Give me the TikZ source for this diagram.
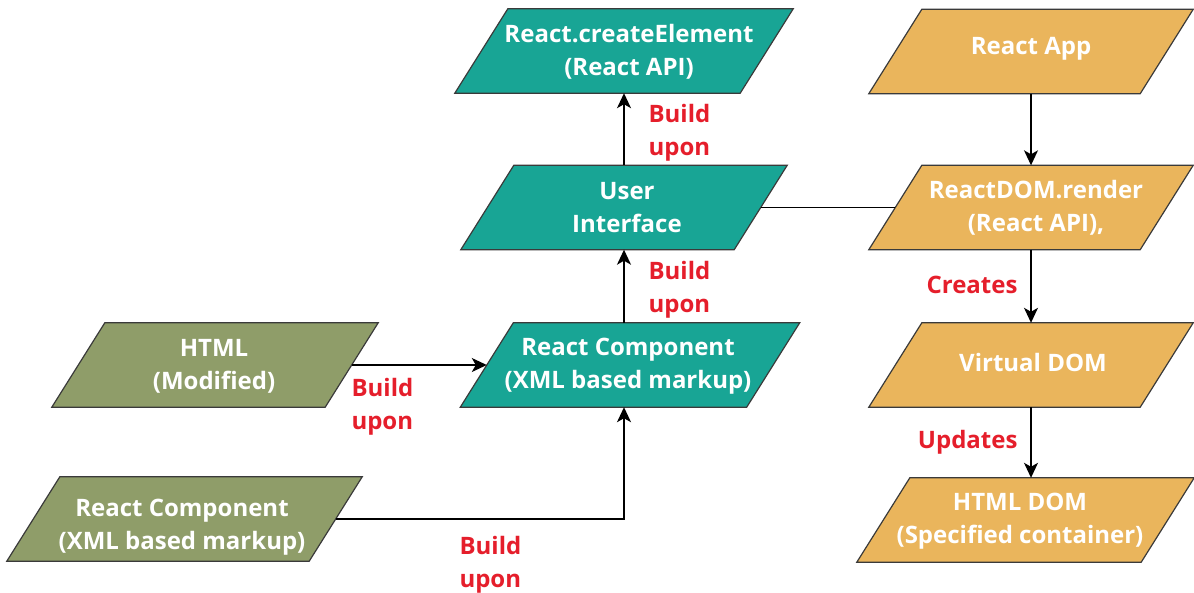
\documentclass[tikz,border=0pt]{standalone}
\usepackage{fontspec}
\setmainfont{Open Sans}
\usetikzlibrary{arrows.meta}

\definecolor{tealbox}{HTML}{18A595}
\definecolor{orangebox}{HTML}{EAB55C}
\definecolor{olivebox}{HTML}{8F9D69}
\definecolor{edgeline}{HTML}{3A3A3A}
\definecolor{labelred}{HTML}{E51E2B}

\tikzset{
  pbody/.style={rectangle, minimum height=84pt, inner sep=0pt},
  pshape/.style={draw=edgeline, line width=1.2pt},
  boxtext/.style={text=white, align=center, font=\bfseries\fontsize{24}{33}\selectfont},
  redtext/.style={text=labelred, align=left, anchor=west,
    font=\bfseries\fontsize{24}{33}\selectfont},
  arr/.style={draw=black, line width=1.5pt,
    -{Stealth[length=15pt,width=14pt,inset=4pt]}},
  link/.style={draw=black, line width=1.5pt}
}

% parallelogram box: #1 name, #2 centre, #3 body width, #4 fill colour
\newcommand\pbox[4]{%
  \node[pbody, minimum width=#3] (#1) at (#2) {};
  \filldraw[pshape, fill=#4]
    ([xshift=-26.5pt]#1.south west) -- ([xshift=-26.5pt]#1.south east)
    -- ([xshift=26.5pt]#1.north east) -- ([xshift=26.5pt]#1.north west) -- cycle;
}

\begin{document}
\begin{tikzpicture}[x=1pt,y=-1pt]
\useasboundingbox (0,0) rectangle (1194,592);

% middle column: teal boxes
\pbox{ce}{624,51}{285pt}{tealbox}
\node[boxtext] (ce-t) at (629,52) {React.createElement\\(React API)};
\pbox{ui}{624,207.5}{273pt}{tealbox}
\node[boxtext] (ui-t) at (627,208) {User\\Interface};
\pbox{rc}{630,365}{286pt}{tealbox}
\node[boxtext] (rc-t) at (628,366) {React Component\\(XML based markup)};

% left column: olive boxes
\pbox{html}{215,365}{273pt}{olivebox}
\node[boxtext] (html-t) at (214,366) {HTML\\(Modified)};
\pbox{grc}{184.5,519}{302pt}{olivebox}
\node[boxtext] (grc-t) at (182,527) {React Component\\(XML based markup)};

% right column: orange boxes
\pbox{app}{1031,51.5}{271pt}{orangebox}
\node[boxtext] (app-t) at (1031,49) {React App};
\pbox{rdom}{1031,207.5}{271pt}{orangebox}
\node[boxtext] (rdom-t) at (1036,208) {ReactDOM.render\\(React API),};
\pbox{vdom}{1031,365}{271pt}{orangebox}
\node[boxtext] (vdom-t) at (1033,362) {Virtual DOM};
\pbox{hdom}{1025.5,520}{284pt}{orangebox}
\node[boxtext] (hdom-t) at (1020,521) {HTML DOM\\(Specified container)};

% connectors
\draw[arr] (ui.north) -- (ui.north |- ce.south);
\draw[arr] (ui.south |- rc.north) -- (ui.south);
\draw[arr] (html.east) -- (rc.west);
\draw[arr] (grc.east) -| (rc.south -| ui.south);
\draw[link] (ui.east) -- (rdom.west);
\draw[arr] (app.south) -- (rdom.north);
\draw[arr] (rdom.south) -- (vdom.north);
\draw[arr] (vdom.south -| rdom.south) -- (hdom.north -| rdom.south);

% connector labels
\node[redtext] (l1) at (645,133) {Build\\upon};
\node[redtext] (l2) at (645,290) {Build\\upon};
\node[redtext] (l3) at (348,407) {Build\\upon};
\node[redtext] (l4) at (456,565) {Build\\upon};
\node[redtext, anchor=east] (l5) at (1021,285) {Creates};
\node[redtext, anchor=east] (l6) at (1021,442) {Updates};
\end{tikzpicture}
\end{document}
